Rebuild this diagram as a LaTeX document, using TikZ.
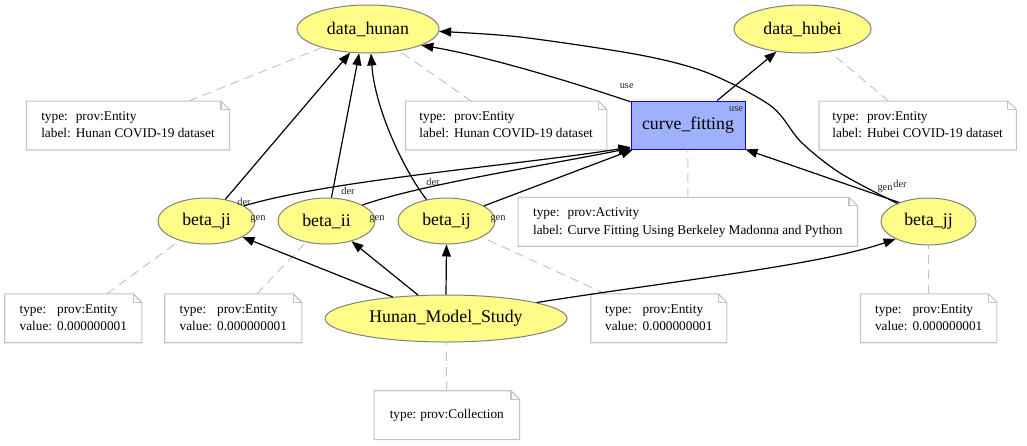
\documentclass[tikz,border=0pt]{standalone}
\usepackage{fontspec}
\setmainfont{Liberation Serif}
\usetikzlibrary{arrows.meta,shapes.geometric}
\definecolor{entfill}{HTML}{FFFC87}
\definecolor{entdraw}{HTML}{808080}
\definecolor{actfill}{HTML}{9FB1FC}
\definecolor{actdraw}{HTML}{0000FF}
\definecolor{notegray}{HTML}{C4C4C4}
\newcommand\notefold[1]{%
  \draw[notegray, line width=1.1pt, line join=miter]
    (#1.south west) -- (#1.north west) -- ([xshift=-8.5pt]#1.north east)
    -- ([yshift=-8.5pt]#1.north east) -- (#1.south east) -- cycle;
  \draw[notegray, line width=1.1pt]
    ([xshift=-8.5pt]#1.north east) -- ([xshift=-8.5pt,yshift=-8.5pt]#1.north east)
    -- ([yshift=-8.5pt]#1.north east);}
\newcommand\ntab[4]{\begin{tabular}{@{}l@{\hspace{5pt}}l@{}}#1 & #2\\ #3 & #4\end{tabular}}
\begin{document}
\begin{tikzpicture}[x=1pt,y=-1pt,
  entity/.style={ellipse, draw=entdraw, fill=entfill, line width=1pt, inner sep=0pt,
    font=\fontsize{17.8}{20}\selectfont},
  activity/.style={rectangle, draw=actdraw, fill=actfill, line width=1pt, inner sep=0pt,
    minimum width=114pt, minimum height=48pt, font=\fontsize{17.8}{20}\selectfont},
  notebox/.style={rectangle, inner sep=0pt, minimum height=48.5pt,
    font=\fontsize{13.3}{17.5}\selectfont},
  notelink/.style={draw=notegray, line width=1pt, dash pattern=on 9pt off 6pt},
  rel/.style={draw=black, line width=1.2pt, -{Triangle[length=12pt,width=9pt]}},
  elabel/.style={font=\fontsize{10.4}{12}\selectfont, inner sep=0pt, text=black!85}
]
\useasboundingbox (0,0) rectangle (1027,445);

% main nodes
\node[entity, minimum width=142pt, minimum height=48pt] (dh) at (368,29) {data\_hunan};
\node[entity, minimum width=137pt, minimum height=48pt] (hb) at (802.5,29) {data\_hubei};
\node[activity] (cf) at (688,125) {curve\_fitting};
\node[entity, minimum width=97pt, minimum height=46pt] (bji) at (206.5,221) {beta\_ji};
\node[entity, minimum width=97pt, minimum height=46pt] (bii) at (326.5,221) {beta\_ii};
\node[entity, minimum width=97pt, minimum height=46pt] (bij) at (446.5,221) {beta\_ij};
\node[entity, minimum width=95pt, minimum height=47pt] (bjj) at (928.5,221.5) {beta\_jj};
\node[entity, minimum width=242pt, minimum height=47pt] (hms) at (446,318.5) {Hunan\_Model\_Study};

% notes
\node[notebox, minimum width=202.6pt] (n1) at (128,125.5) {\ntab{type:}{prov:Entity}{label:}{Hunan COVID-19 dataset}};
\node[notebox, minimum width=201pt] (n2) at (506.2,125.5) {\ntab{type:}{prov:Entity}{label:}{Hunan COVID-19 dataset}};
\node[notebox, minimum width=197pt] (n3) at (917.7,125.5) {\ntab{type:}{prov:Entity}{label:}{Hubei COVID-19 dataset}};
\node[notebox, minimum width=339pt] (na) at (687.8,221.8) {\ntab{type:}{prov:Activity}{label:}{Curve Fitting Using Berkeley Madonna and Python}};
\node[notebox, minimum width=136.7pt] (nji) at (73.3,318.3) {\ntab{type:}{prov:Entity}{value:}{0.000000001}};
\node[notebox, minimum width=136.7pt] (nii) at (233.3,318.3) {\ntab{type:}{prov:Entity}{value:}{0.000000001}};
\node[notebox, minimum width=135.7pt] (nij) at (658.8,318.3) {\ntab{type:}{prov:Entity}{value:}{0.000000001}};
\node[notebox, minimum width=136pt] (njj) at (928.7,318.3) {\ntab{type:}{prov:Entity}{value:}{0.000000001}};
\node[notebox, minimum width=145pt] (nhms) at (446.8,415.2) {type:\hspace{4pt}prov:Collection};

\foreach \n in {n1,n2,n3,na,nji,nii,nij,njj,nhms} {\notefold{\n}}

% note links
\draw[notelink] (n1) -- (dh);
\draw[notelink] (n2) -- (dh);
\draw[notelink] (n3) -- (hb);
\draw[notelink] (na) -- (cf);
\draw[notelink] (nji) -- (bji);
\draw[notelink] (nii) -- (bii);
\draw[notelink] (nij) -- (bij);
\draw[notelink] (njj) -- (bjj);
\draw[notelink] (nhms) -- (hms);

% relations
\draw[rel] (bji.49) -- (dh.233);
\draw[rel] (bii.78) -- (dh.250);
\draw[rel] (bij.133) .. controls (405,172) and (375,110) .. (dh.277);
\draw[rel] (bji.22) .. controls (330,180) and (520,165) .. (cf.201);
\draw[rel] (bii.24) .. controls (420,185) and (530,168) .. (cf.202);
\draw[rel] (bij.22) -- (cf.204);
\draw[rel] (cf.158) .. controls (560,78) and (480,55) .. (dh.343);
\draw[rel] (cf.40) -- (hb.221);
\draw[rel] plot[smooth, tension=0.5] coordinates {(bjj.150) (840,173) (801,142) (771,106) (708,73) (640,55) (520,37) (dh.358)};
\draw[rel] (bjj.147) -- (cf.337);
\draw[rel] (hms.158) -- (bji.336);
\draw[rel] (hms.140) -- (bii.321);
\draw[rel] (hms.90) -- (bij.270);
\draw[rel] (hms.10.5) .. controls (680,280) and (820,265) .. (bjj.208);

% edge labels
\node[elabel] (l1) at (244,202) {der};
\node[elabel] (l2) at (258,219) {gen};
\node[elabel] (l3) at (348,191) {der};
\node[elabel] (l4) at (377,219) {gen};
\node[elabel] (l5) at (433,182) {der};
\node[elabel] (l6) at (498,219) {gen};
\node[elabel] (l7) at (626.7,86) {use};
\node[elabel] (l8) at (736,109) {use};
\node[elabel] (l9) at (885,189) {gen};
\node[elabel] (l10) at (900,183.5) {der};
\end{tikzpicture}
\end{document}
